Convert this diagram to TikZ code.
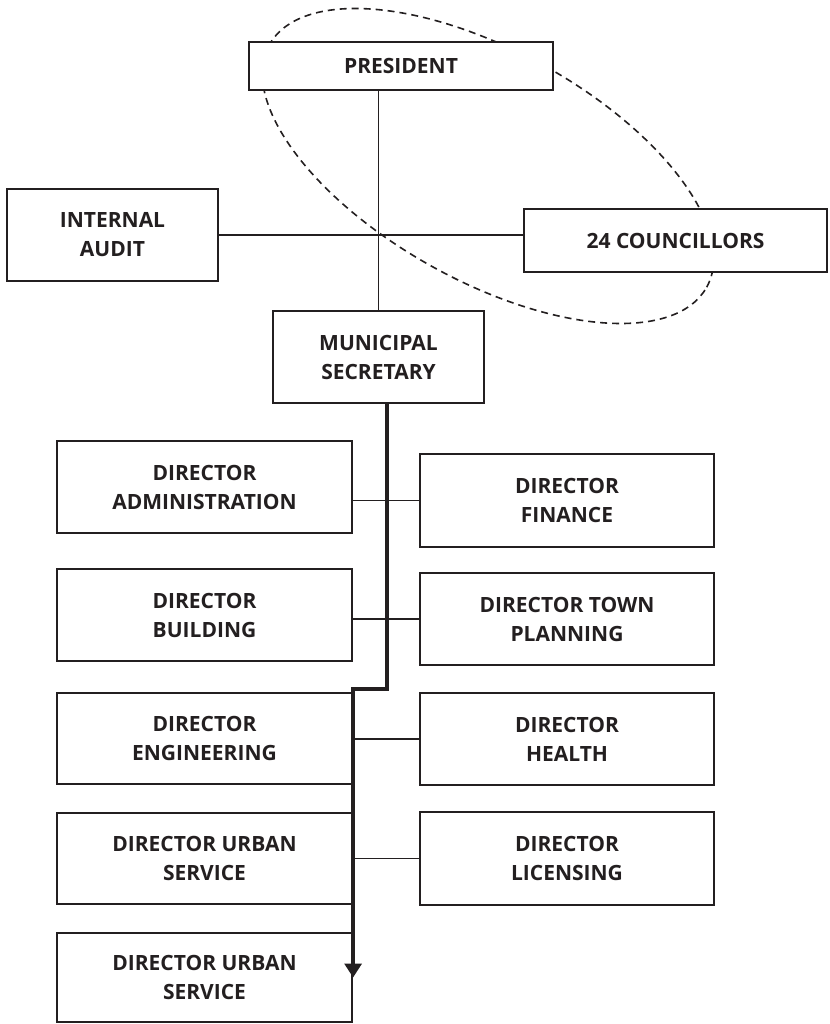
\documentclass[tikz,border=0pt]{standalone}
\usepackage{fontspec}
\setmainfont{Open Sans}
\usetikzlibrary{arrows.meta}
\definecolor{ink}{RGB}{35,31,32}
\begin{document}
\begin{tikzpicture}[x=1pt,y=-1pt,
  box/.style={draw=ink, line width=2.2pt, fill=white, align=center, inner sep=0pt,
    text=ink, font=\bfseries\fontsize{21}{29}\selectfont},
  colL/.style={box, minimum width=295pt, minimum height=92pt},
  colR/.style={box, minimum width=294pt, minimum height=92pt},
  link/.style={draw=ink, line width=1.5pt},
  spine/.style={draw=ink, line width=3.3pt},
  halo/.style={draw=ink, line width=1.6pt, dash pattern=on 7pt off 5pt}]
\useasboundingbox (0,0) rectangle (829,1024);
\draw[halo, rotate around={-29:(488,166)}] (488,166) ellipse [x radius=250pt, y radius=115pt];

\node[box, minimum width=304pt, minimum height=48pt] (pres) at (401,66) {PRESIDENT};
\node[box, minimum width=211pt, minimum height=92pt] (audit) at (112.5,235) {INTERNAL\\AUDIT};
\node[box, minimum width=303pt, minimum height=63pt] (counc) at (675.5,240.5) {24 COUNCILLORS};
\node[box, minimum width=211pt, minimum height=92pt] (mun) at (378.5,357) {MUNICIPAL\\SECRETARY};

\node[colL] (admin) at (204.5,487) {DIRECTOR\\ADMINISTRATION};
\node[colL] (bld) at (204.5,615) {DIRECTOR\\BUILDING};
\node[colL, minimum height=91pt] (eng) at (204.5,738.5) {DIRECTOR\\ENGINEERING};
\node[colL, minimum height=91pt] (urb1) at (204.5,858.5) {DIRECTOR URBAN\\SERVICE};
\node[colL, minimum height=89pt] (urb2) at (204.5,977.5) {DIRECTOR URBAN\\SERVICE};

\node[colR, minimum height=93pt] (fin) at (567,500.5) {DIRECTOR\\FINANCE};
\node[colR] (town) at (567,619) {DIRECTOR TOWN\\PLANNING};
\node[colR] (health) at (567,739) {DIRECTOR\\HEALTH};
\node[colR, minimum height=93pt] (lic) at (567,858.5) {DIRECTOR\\LICENSING};

\draw[link, line width=1.7pt] (pres.south -| mun.north) -- (mun.north);
\draw[link] (audit.east) -- (audit.east -| counc.west);
\draw[link] (admin.east |- fin.west) -- (fin.west);
\draw[link] (bld.east |- town.west) -- (town.west);
\draw[link] (eng.east |- health.west) -- (health.west);
\draw[link] (urb1.east |- lic.west) -- (lic.west);

\coordinate (jog) at (387,689);
\draw[spine, -{Triangle[length=14pt, width=17pt]}]
  ([xshift=8.5pt]mun.south) -- (jog) -- (jog -| eng.east) -- (urb2.east);
\end{tikzpicture}
\end{document}
